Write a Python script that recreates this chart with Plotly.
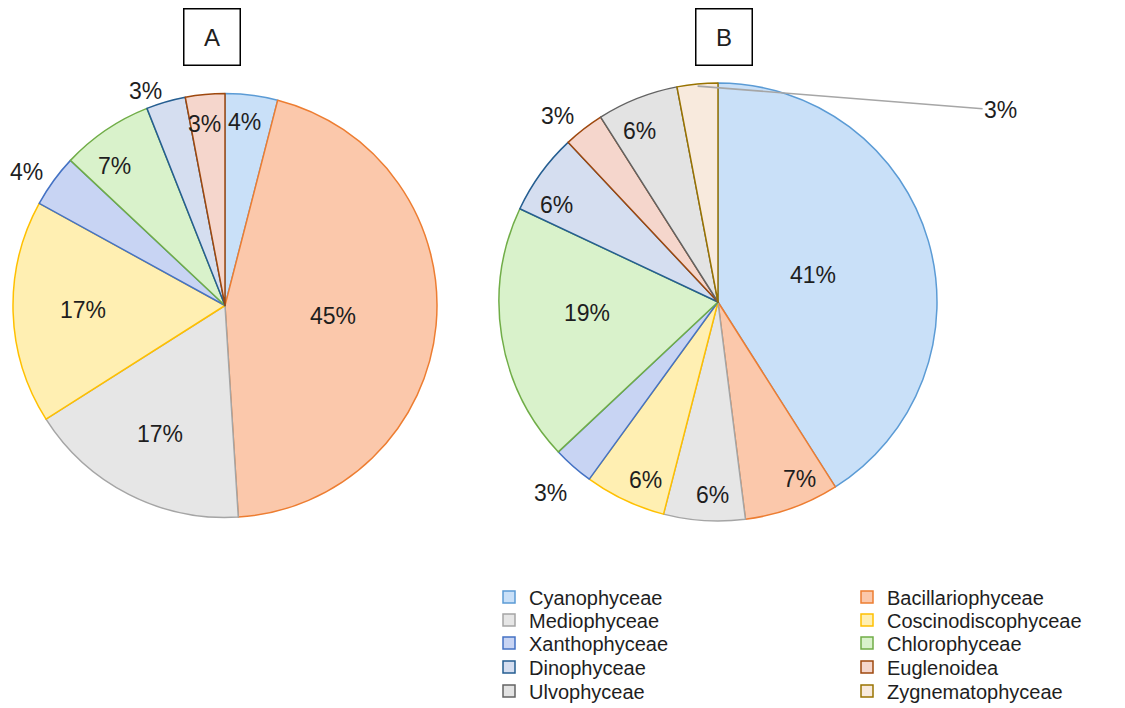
import math
import plotly.graph_objects as go

W, H = 1125, 708

# Algal classes (legend order, read row by row across two columns)
classes = [
    "Cyanophyceae", "Bacillariophyceae", "Mediophyceae", "Coscinodiscophyceae",
    "Xanthophyceae", "Chlorophyceae", "Dinophyceae", "Euglenoidea",
    "Ulvophyceae", "Zygnematophyceae",
]

# Panel A: share of taxa (%) per class, clockwise from 12 o'clock
labels_a = ["Cyanophyceae", "Bacillariophyceae", "Mediophyceae", "Coscinodiscophyceae",
            "Xanthophyceae", "Chlorophyceae", "Dinophyceae", "Euglenoidea"]
values_a = [4, 45, 17, 17, 4, 7, 3, 3]

# Panel B: share of taxa (%) per class, clockwise from 12 o'clock
labels_b = ["Cyanophyceae", "Bacillariophyceae", "Mediophyceae", "Coscinodiscophyceae",
            "Xanthophyceae", "Chlorophyceae", "Dinophyceae", "Euglenoidea",
            "Ulvophyceae", "Zygnematophyceae"]
values_b = [41, 7, 6, 6, 3, 19, 6, 3, 6, 3]

edge_colors = {
    "Cyanophyceae": "#5B9BD5",
    "Bacillariophyceae": "#ED7D31",
    "Mediophyceae": "#A5A5A5",
    "Coscinodiscophyceae": "#FFC000",
    "Xanthophyceae": "#4472C4",
    "Chlorophyceae": "#70AD47",
    "Dinophyceae": "#255E91",
    "Euglenoidea": "#9E480E",
    "Ulvophyceae": "#636363",
    "Zygnematophyceae": "#997300",
}
fill_colors = {
    "Cyanophyceae": "#C9E0F8",
    "Bacillariophyceae": "#FBC8AB",
    "Mediophyceae": "#E6E6E6",
    "Coscinodiscophyceae": "#FFEFB2",
    "Xanthophyceae": "#C8D4F3",
    "Chlorophyceae": "#D9F2CB",
    "Dinophyceae": "#D5DEF0",
    "Euglenoidea": "#F5D6CC",
    "Ulvophyceae": "#E3E3E3",
    "Zygnematophyceae": "#F8EADD",
}

FONT = "Liberation Sans, Arial, sans-serif"
TEXT = "#1e1e1e"

# pie geometry in pixels: centre and radius
geo_a = dict(cx=225, cy=305.5, r=212)
geo_b = dict(cx=718, cy=302, r=219)

# percentage label placement: (radius factor, angular nudge in degrees)
place_a = {
    "Cyanophyceae": (0.87, -1), "Bacillariophyceae": (0.51, 0), "Mediophyceae": (0.68, 0),
    "Coscinodiscophyceae": (0.67, 0), "Xanthophyceae": (1.13, -2), "Chlorophyceae": (0.84, -4),
    "Dinophyceae": (1.08, -4), "Euglenoidea": (0.86, -1),
}
place_b = {
    "Cyanophyceae": (0.45, 0), "Bacillariophyceae": (0.89, -5), "Mediophyceae": (0.88, -2),
    "Coscinodiscophyceae": (0.88, -3), "Xanthophyceae": (1.16, 0), "Chlorophyceae": (0.60, 4),
    "Dinophyceae": (0.86, -5), "Euglenoidea": (1.12, -3), "Ulvophyceae": (0.86, -3),
}
leader_b = {"Zygnematophyceae": (0.99, 303, 24)}  # radius factor, text offset x/y in px


def domain(g):
    return dict(
        x=[(g["cx"] - g["r"]) / W, (g["cx"] + g["r"]) / W],
        y=[1 - (g["cy"] + g["r"]) / H, 1 - (g["cy"] - g["r"]) / H],
    )


def polar(g, frac, deg):
    t = math.radians(deg)
    px = g["cx"] + frac * g["r"] * math.sin(t)
    py = g["cy"] - frac * g["r"] * math.cos(t)
    return px / W, 1 - py / H


def make_pie(labels, values, g):
    return go.Pie(
        labels=labels, values=values, sort=False, direction="clockwise", rotation=0,
        domain=domain(g), textinfo="none", hoverinfo="label+percent", showlegend=False,
        marker=dict(colors=[fill_colors[l] for l in labels],
                    line=dict(color=[edge_colors[l] for l in labels], width=1.5)),
    )


def pct_annotations(labels, values, g, place, leader=None):
    anns = []
    total = sum(values)
    cum = 0
    for lab, val in zip(labels, values):
        mid = (cum + val / 2) / total * 360
        cum += val
        txt = f"{round(val / total * 100)}%"
        base = dict(xref="paper", yref="paper", text=txt, xanchor="center", yanchor="middle",
                    font=dict(family=FONT, size=23, color=TEXT))
        if lab in place:
            frac, nudge = place[lab]
            x, y = polar(g, frac, mid + nudge)
            anns.append(dict(base, x=x, y=y, showarrow=False))
        elif leader and lab in leader:
            frac, axp, ayp = leader[lab]
            x, y = polar(g, frac, mid)
            anns.append(dict(base, x=x, y=y, showarrow=True, arrowhead=0, arrowwidth=1.6,
                             arrowcolor="#A6A6A6", ax=axp, ay=ayp, standoff=0))
    return anns


fig = go.Figure()
fig.add_trace(make_pie(labels_a, values_a, geo_a))
fig.add_trace(make_pie(labels_b, values_b, geo_b))

# legend entries: one small legend per entry, laid out in two columns
col_x = [509, 867]
row_y = [597, 620, 643, 667, 691]
legend_layout = {}
for i, cls in enumerate(classes):
    key = "legend" if i == 0 else f"legend{i + 1}"
    col, row = i % 2, i // 2
    fig.add_trace(go.Scatter(
        x=[None], y=[None], mode="markers", name=cls, legend=key, showlegend=True,
        marker=dict(symbol="square", size=12, color=fill_colors[cls],
                    line=dict(color=edge_colors[cls], width=1.5)),
    ))
    legend_layout[key] = dict(
        x=(col_x[col] - 20) / W, y=1 - row_y[row] / H, xanchor="left", yanchor="middle",
        xref="container", yref="container", bgcolor="rgba(0,0,0,0)", borderwidth=0,
        font=dict(family=FONT, size=20, color=TEXT),
    )

annotations = []
annotations += pct_annotations(labels_a, values_a, geo_a, place_a)
annotations += pct_annotations(labels_b, values_b, geo_b, place_b, leader_b)

# panel tags
for tag, cx in (("A", 211.5), ("B", 724)):
    annotations.append(dict(
        x=cx / W, y=1 - 37 / H, xref="paper", yref="paper", text=tag, showarrow=False,
        xanchor="center", yanchor="middle",
        width=55, height=55, borderpad=0, bordercolor="#000000", borderwidth=1.5,
        bgcolor="#FFFFFF", font=dict(family=FONT, size=24, color=TEXT),
    ))

fig.update_layout(
    width=W, height=H, margin=dict(l=0, r=0, t=0, b=0, autoexpand=False),
    paper_bgcolor="#FFFFFF", plot_bgcolor="#FFFFFF",
    xaxis=dict(visible=False), yaxis=dict(visible=False),
    annotations=annotations,
    **legend_layout,
)

fig.write_html("out.html")
